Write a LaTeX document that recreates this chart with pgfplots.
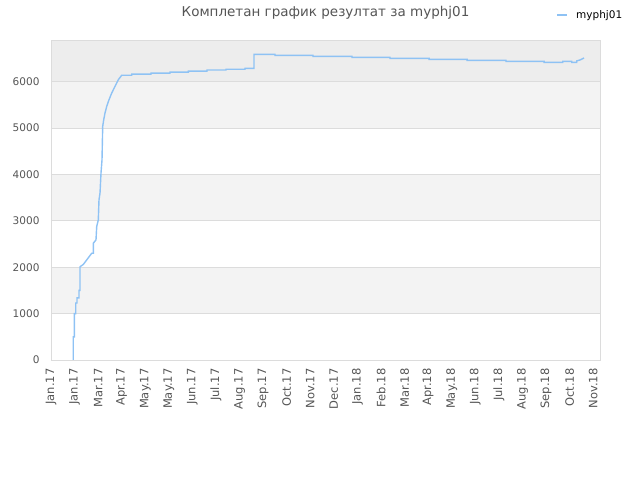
\documentclass[border=0pt]{standalone}
\usepackage{pgfplots}
\pgfplotsset{compat=1.18}
\usepackage{fontspec}
\setmainfont{DejaVu Sans}
\definecolor{linec}{HTML}{8EC2F4}
\definecolor{bandA}{HTML}{F3F3F3}
\definecolor{bandB}{HTML}{EDEDED}
\definecolor{gridc}{HTML}{DCDCDC}
\definecolor{txt}{HTML}{555555}
\pgfplotsset{set layers}
\begin{document}
\begin{tikzpicture}[x=1pt,y=1pt]
\begin{axis}[
  scale only axis, width=549pt, height=320pt,
  xmin=0, xmax=23.29, ymin=0, ymax=6900,
  xtick={0,...,23},
  xticklabels={Jan.17,Jan.17,Mar.17,Apr.17,May.17,May.17,Jun.17,Jul.17,Aug.17,Sep.17,Oct.17,Nov.17,Dec.17,Jan.18,Feb.18,Mar.18,Apr.18,May.18,Jun.18,Jul.18,Aug.18,Sep.18,Oct.18,Nov.18},
  x tick label style={rotate=90, anchor=east, font=\fontsize{11.5}{13}\selectfont, text=txt},
  xticklabel shift=5pt,
  ytick={0,1000,...,6000},
  y tick label style={font=\fontsize{10.5}{12}\selectfont, text=txt},
  yticklabel shift=8pt,
  /pgf/number format/assume math mode=true,
  /pgf/number format/1000 sep={},
  ymajorgrids, grid style={gridc, line width=0.8pt},
  axis line style={draw=gridc, line width=0.8pt},
  major tick length=0pt,
  title={Комплетан график резултат за myphj01},
  title style={font=\fontsize{13.5}{15}\selectfont, text=txt, yshift=11pt},
  legend style={at={(1.05,1.05)}, anchor=south east, draw=none, fill=none, font=\fontsize{10.5}{12}\selectfont},
  legend image code/.code={\draw[#1, line width=1.5pt] (0pt,0pt) -- (10pt,0pt); \path[draw=none] (0pt,0pt) -- (17pt,0pt);},
]
\begin{pgfonlayer}{axis background}
\fill[bandA] (axis cs:0,1000) rectangle (axis cs:23.29,2000);
\fill[bandA] (axis cs:0,3000) rectangle (axis cs:23.29,4000);
\fill[bandA] (axis cs:0,5000) rectangle (axis cs:23.29,6000);
\fill[bandB] (axis cs:0,6000) rectangle (axis cs:23.29,6900);
\end{pgfonlayer}
\addplot[linec, line width=1.4pt] coordinates {
(0.946,0) (0.946,500) (0.989,500) (0.989,1000) (1.048,1000) (1.048,1230)
(1.103,1230) (1.103,1340) (1.188,1340) (1.188,1500) (1.230,1500) (1.230,2010)
(1.370,2060) (1.515,2158) (1.727,2302) (1.795,2302) (1.795,2518) (1.909,2590)
(1.939,2877) (2.007,3022) (2.036,3453) (2.079,3597) (2.121,4029) (2.164,4317)
(2.193,5036) (2.236,5180) (2.291,5324) (2.363,5468) (2.461,5612) (2.575,5756)
(2.715,5899) (2.855,6043) (3.000,6140) (3.424,6140) (3.424,6165) (4.243,6165)
(4.243,6187) (5.049,6187) (5.049,6208) (5.825,6208) (5.825,6230) (6.619,6230)
(6.619,6252) (7.425,6252) (7.425,6270) (8.231,6270) (8.231,6288) (8.613,6288)
(8.613,6590) (9.504,6590) (9.504,6568) (11.116,6568) (11.116,6547) (12.771,6547)
(12.771,6525) (14.383,6525) (14.383,6503) (16.038,6503) (16.038,6482) (17.650,6482)
(17.650,6460) (19.304,6460) (19.304,6438) (20.917,6438) (20.917,6417) (21.710,6417)
(21.710,6438) (22.092,6438) (22.092,6417) (22.304,6417) (22.304,6450) (22.444,6470)
(22.614,6512)
};
\addlegendentry{myphj01}
\end{axis}
\pgfresetboundingbox
\path[use as bounding box] ([xshift=-51pt,yshift=-120pt]current axis.south west) rectangle ([xshift=40pt,yshift=40pt]current axis.north east);
\end{tikzpicture}
\end{document}
